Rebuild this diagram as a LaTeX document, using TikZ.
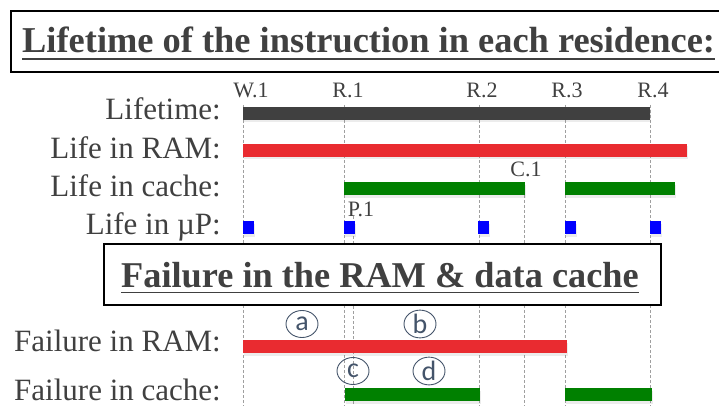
\documentclass[tikz,border=0pt]{standalone}
\usepackage{fontspec}
\setmainfont{Liberation Serif}
\newfontfamily\circfont{Carlito}
\usepackage{xcolor}
\usepackage{tikz}
\usetikzlibrary{shapes.geometric,shadows,positioning,calc}

\definecolor{txtgray}{HTML}{404040}
\definecolor{barred}{HTML}{E92B30}
\definecolor{bargreen}{HTML}{008000}
\definecolor{barblue}{HTML}{0000FF}
\definecolor{circblue}{HTML}{44546A}

\begin{document}
\begin{tikzpicture}[
    x=1pt, y=-1pt,
    ttl/.style={anchor=base west, inner sep=0pt, text=txtgray, font=\fontsize{36.4}{40}\selectfont\bfseries},
    lab/.style={anchor=base east, inner sep=0pt, text=txtgray, font=\fontsize{31}{36}\selectfont},
    ev/.style={anchor=base, inner sep=0pt, text=txtgray, font=\fontsize{22}{26}\selectfont},
    boxframe/.style={draw=black, line width=2.5pt, fill=white},
    uline/.style={draw=txtgray, line width=1.8pt},
    guide/.style={draw=gray!75, line width=0.7pt, dash pattern=on 3pt off 2pt},
    lifebar/.style={drop shadow={shadow xshift=1pt, shadow yshift=-2.5pt, opacity=0.15}},
    circ/.style={ellipse, draw=circblue, line width=0.9pt, inner sep=0pt, minimum width=32pt, minimum height=27pt, text=circblue, font=\fontsize{28}{28}\selectfont\circfont}
]
    \useasboundingbox (0,0) rectangle (719,406);

    % event instants
    \coordinate (tw1) at (243,105);
    \coordinate (tr1) at (344,105);
    \coordinate (tp1) at (353,216);
    \coordinate (tr2) at (479,105);
    \coordinate (tc1) at (524,195);
    \coordinate (tr3) at (565,105);
    \coordinate (tr4) at (650,105);
    \coordinate (bot) at (0,406);

    \draw [guide] (tw1) -- (tw1 |- bot);
    \draw [guide] (tr1) -- (tr1 |- bot);
    \draw [guide] (tp1) -- (tp1 |- bot);
    \draw [guide] (tr2) -- (tr2 |- bot);
    \draw [guide] (tc1) -- (tc1 |- bot);
    \draw [guide] (tr3) -- (tr3 |- bot);
    \draw [guide] (tr4) -- (tr4 |- bot);

    % headings
    \draw [boxframe] (11,11) rectangle (724,72);
    \node [ttl] (head1) at (22,53) {Lifetime of the instruction in each residence:};
    \draw [uline] ([yshift=-6pt]head1.base west) -- ([yshift=-6pt]head1.base east);

    \draw [boxframe] (104,244) rectangle (661,305);
    \node [ttl, font=\fontsize{36.3}{40}\selectfont\bfseries] (head2) at (121,287) {Failure in the RAM \& data cache};
    \draw [uline] ([yshift=-5.5pt]head2.base west) -- ([yshift=-5.5pt]head2.base east);

    \node [ev] (w1) at (251,98) {W.1};
    \node [ev] (r1) at (348,98) {R.1};
    \node [ev] (r2) at (482,98) {R.2};
    \node [ev] (r3) at (567,98) {R.3};
    \node [ev] (r4) at (653,98) {R.4};
    \node [ev] (c1) at (526,176) {C.1};
    \node [ev] (p1) at (361,216) {P.1};

    \node [lab] (lbl1) at (221,120) {Lifetime:};
    \node [lab] (lbl2) at (221,158) {Life in RAM:};
    \node [lab] (lbl3) at (221,196) {Life in cache:};
    \node [lab] (lbl4) at (221,234) {Life in µP:};
    \node [lab] (lbl5) at (221,351) {Failure in RAM:};
    \node [lab] (lbl6) at (221,400) {Failure in cache:};

    % residences
    \fill [lifebar, fill=txtgray] (243,107) rectangle (650,120);
    \fill [lifebar, fill=barred] (243,144) rectangle (687,157);
    \fill [lifebar, fill=bargreen] (344,182) rectangle (525,195);
    \fill [lifebar, fill=bargreen] (565,182) rectangle (675,195);
    \fill [lifebar, fill=barblue] (243,221) rectangle (254,234);
    \fill [lifebar, fill=barblue] (344,221) rectangle (355,234);
    \fill [lifebar, fill=barblue] (478,221) rectangle (489,234);
    \fill [lifebar, fill=barblue] (565,221) rectangle (576,234);
    \fill [lifebar, fill=barblue] (650,221) rectangle (661,234);

    % failures
    \fill [lifebar, fill=barred] (243,340) rectangle (567,353);
    \fill [lifebar, fill=bargreen] (345,388) rectangle (480,401);
    \fill [lifebar, fill=bargreen] (565,388) rectangle (652,401);

    \node [circ] (fa) at (302,324) {a};
    \node [circ] (fb) at (420,324) {b};
    \node [circ] (fc) at (353,371) {c};
    \node [circ] (fd) at (429,371) {d};
\end{tikzpicture}
\end{document}
